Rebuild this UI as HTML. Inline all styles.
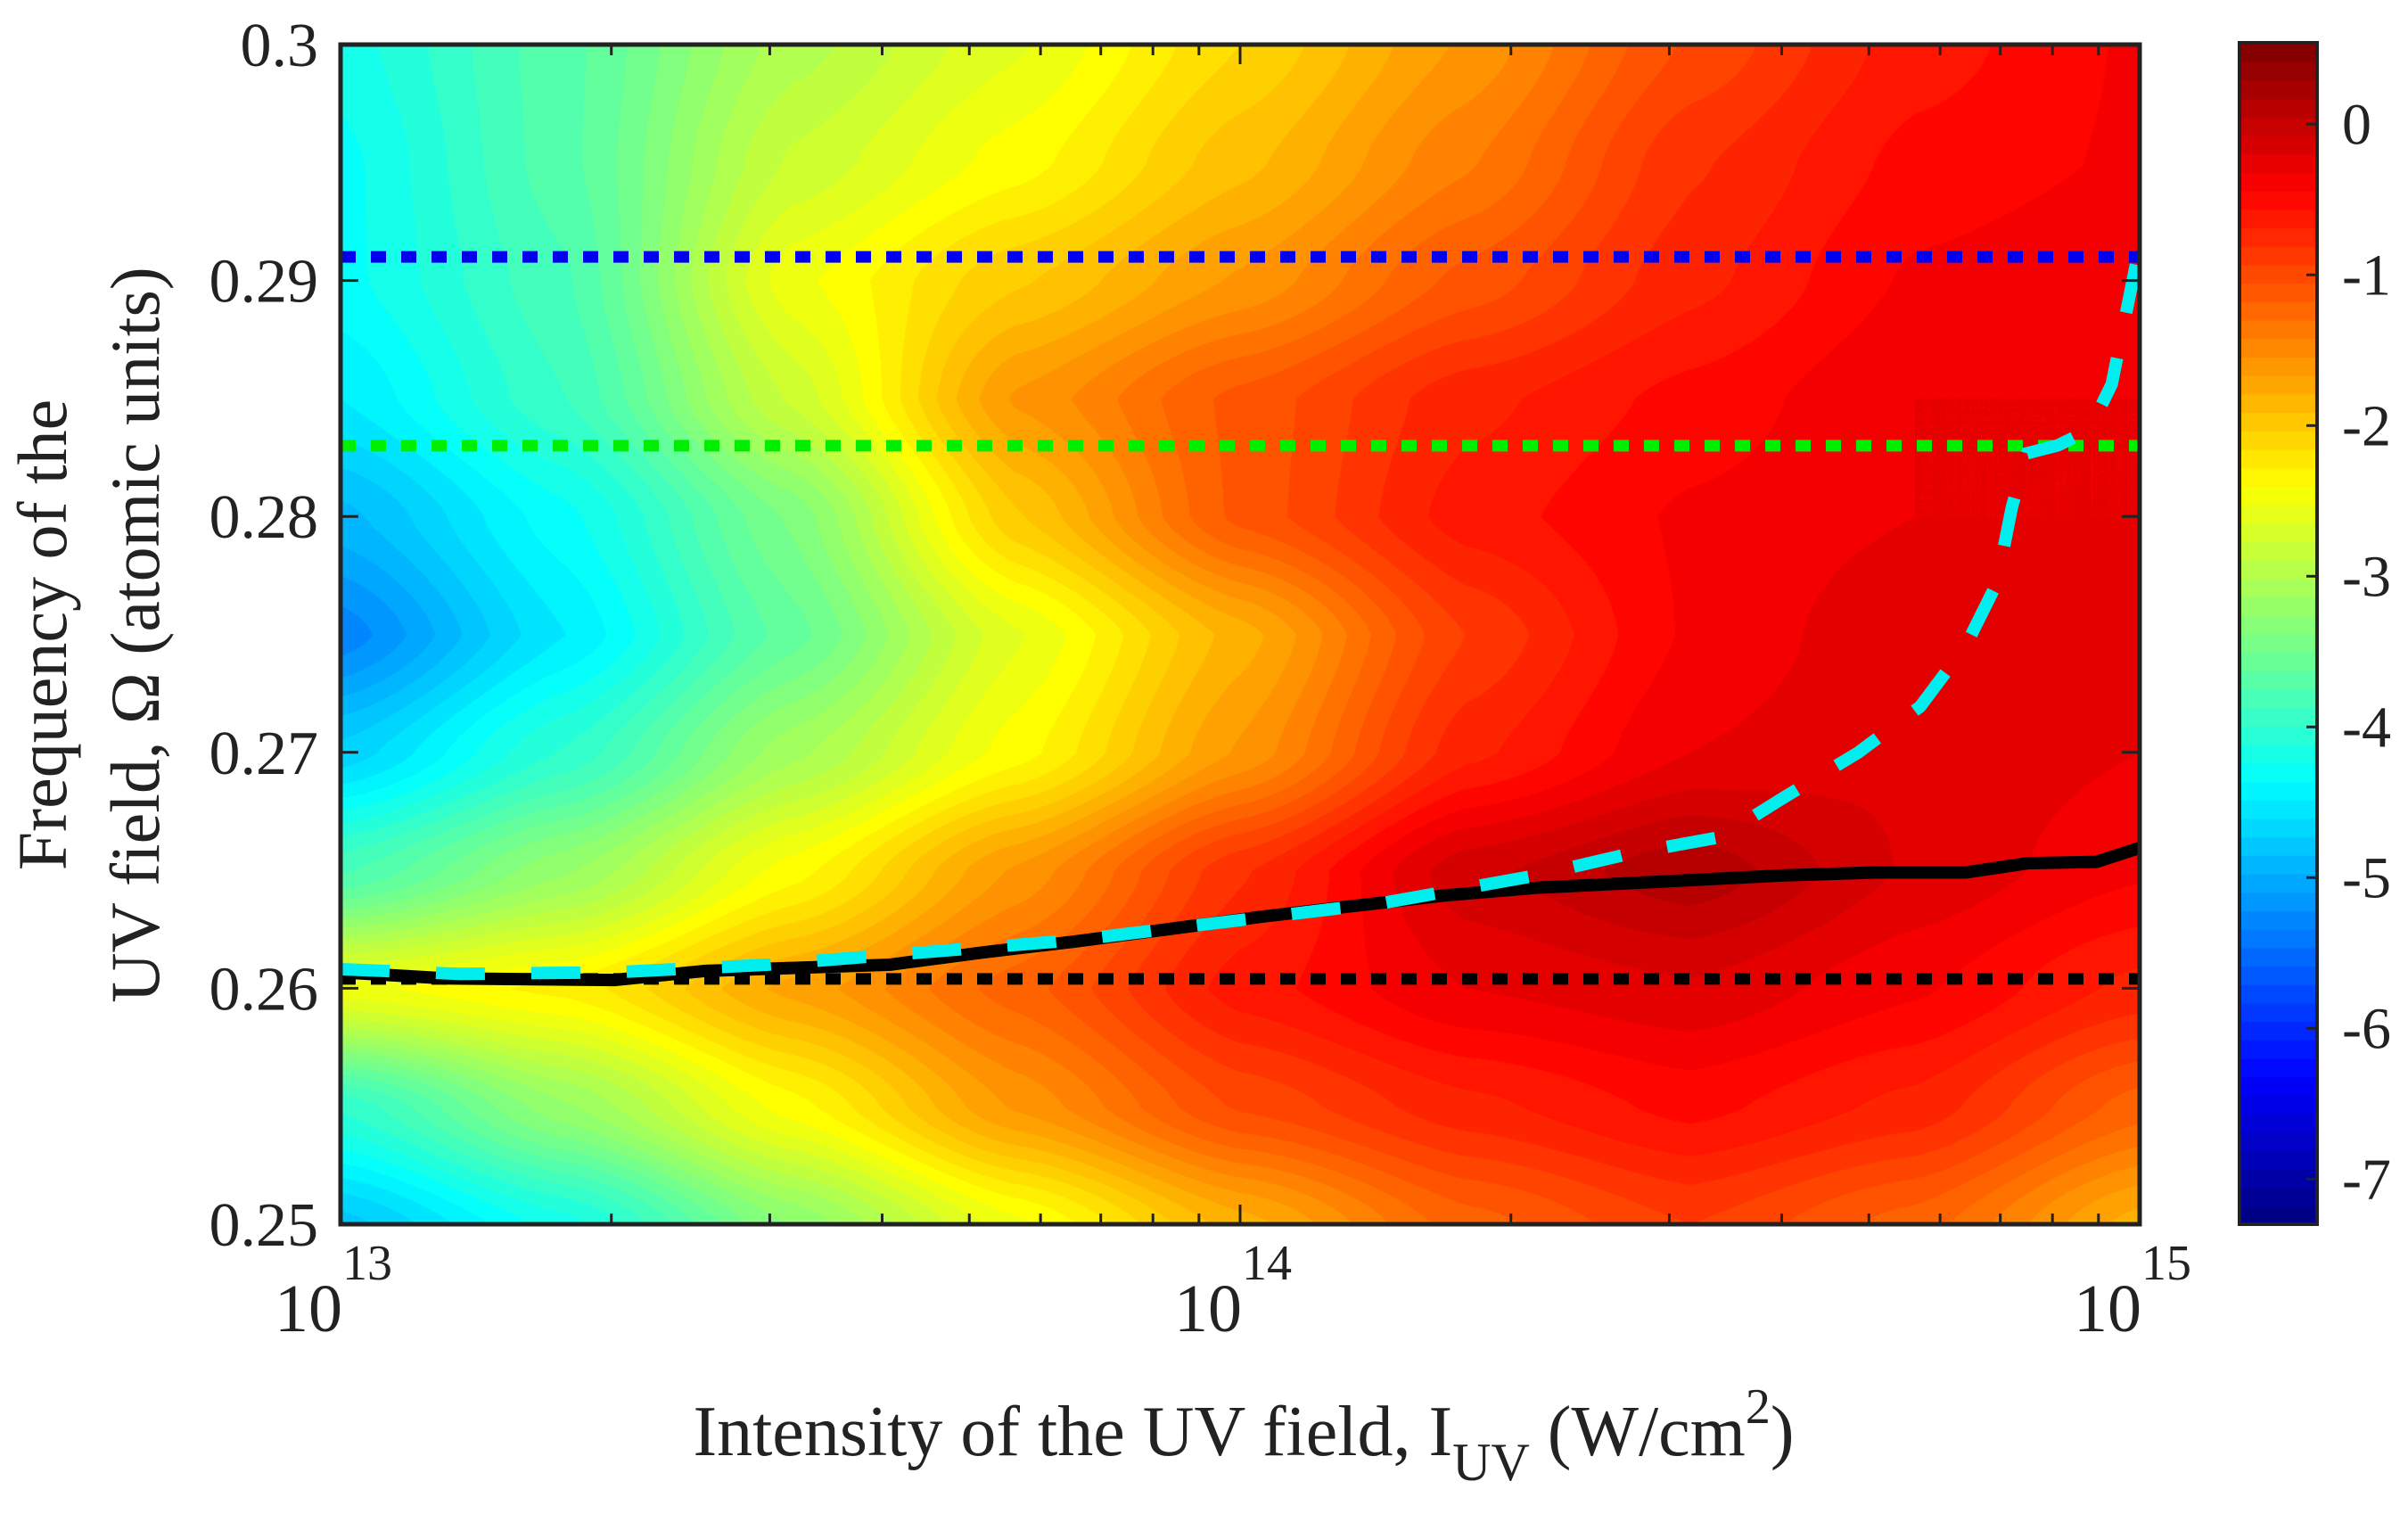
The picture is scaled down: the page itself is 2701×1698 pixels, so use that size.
<!DOCTYPE html>
<html><head><meta charset="utf-8"><style>
html,body{margin:0;padding:0;background:#fff;}
#wrap{position:relative;width:2701px;height:1698px;overflow:hidden;background:#fff;}
canvas{position:absolute;left:0;top:0;}
svg{position:absolute;left:0;top:0;}
text{font-family:"Liberation Serif",serif;fill:#222;}
</style></head><body>
<div id="wrap">
<canvas id="heat" width="2701" height="1698"></canvas>
<svg id="svg" width="2701" height="1698"></svg>
</div>
<script>
// ---- data ----
const gridLogI = [13, 13.25, 13.5, 13.75, 14, 14.25, 14.5, 14.75, 15];
const gridFreq = [0.30, 0.295, 0.29, 0.285, 0.28, 0.275, 0.27, 0.265, 0.26, 0.255, 0.25];
const gridValues = [
 [-4.2,-3.7,-3.0,-2.6,-2.1,-1.6,-1.0,-0.6,-0.4],
 [-4.3,-3.7,-2.8,-2.4,-1.9,-1.4,-0.8,-0.5,-0.4],
 [-4.3,-3.8,-2.5,-2.0,-1.6,-1.1,-0.7,-0.4,-0.3],
 [-4.5,-3.9,-2.8,-1.6,-1.1,-0.7,-0.5,-0.3,-0.3],
 [-4.9,-4.3,-3.4,-2.0,-1.1,-0.6,-0.4,-0.3,-0.3],
 [-5.3,-4.5,-3.6,-2.6,-1.8,-0.9,-0.4,-0.2,-0.3],
 [-4.7,-4.0,-3.1,-2.4,-1.6,-0.7,-0.3,-0.2,-0.3],
 [-3.8,-3.2,-2.4,-1.6,-0.8,-0.1, 0.15,-0.2,-0.4],
 [-2.5,-2.3,-1.7,-1.2,-0.6,-0.3,-0.2,-0.4,-0.7],
 [-4.0,-3.2,-2.4,-1.6,-1.0,-0.7,-0.5,-0.7,-1.2],
 [-4.8,-4.2,-3.3,-2.5,-1.8,-1.2,-0.9,-1.2,-1.8]
];
const blackLogI = [13.0,13.116,13.304,13.406,13.509,13.611,13.714,13.816,13.919,14.021,14.124,14.226,14.329,14.431,14.602,14.705,14.807,14.875,14.952,15.0];
const blackFreq = [0.26068,0.26042,0.26035,0.26074,0.26087,0.26100,0.26152,0.26198,0.26250,0.26302,0.26348,0.26393,0.26426,0.26445,0.26478,0.26491,0.26491,0.26530,0.26536,0.26595];
const cyanLogI = [13.0,13.133,13.304,13.475,13.646,13.816,13.987,14.158,14.329,14.431,14.534,14.602,14.687,14.756,14.807,14.841,14.858,14.875,14.909,14.944,14.969,15.0];
const cyanFreq = [0.26081,0.26061,0.26068,0.26100,0.26152,0.26204,0.26283,0.26361,0.26478,0.26569,0.26641,0.26803,0.26999,0.27194,0.27454,0.27715,0.28040,0.28268,0.28301,0.28366,0.28561,0.29147];
const refFreqs = [0.291, 0.283, 0.2604];
const refColors = ['#0000ee','#00ee00','#000000'];
const refNames = ['blue-dotted-line','green-dotted-line','black-dotted-line'];
const yTicks = [0.25,0.26,0.27,0.28,0.29,0.3];
const yTickLabels = ['0.25','0.26','0.27','0.28','0.29','0.3'];
const xMajor = [13,14,15];
const xMajorExp = ['13','14','15'];
const cbTicks = [0,-1,-2,-3,-4,-5,-6,-7];
const cMin = -7.3, cMax = 0.54;

// ---- layout ----
const L=382,R=2400,T=50,B=1373;
const xS = v => L + (v-13)/2*(R-L);
const yS = f => B - (f-0.25)/0.05*(B-T);
const CBL=2512,CBR=2599,CBT=48,CBB=1373;
const cbY = v => CBB - (v-cMin)/(cMax-cMin)*(CBB-CBT);

function jet(t){
  t=Math.max(0,Math.min(1,t));
  const c=x=>Math.max(0,Math.min(1,x));
  return [c(1.5-Math.abs(4*t-3)),c(1.5-Math.abs(4*t-2)),c(1.5-Math.abs(4*t-1))].map(v=>Math.round(v*255));
}
function sample(li,f){
  const gx=(li-13)/0.25, gy=(0.30-f)/0.005;
  let i=Math.min(Math.floor(gx),gridLogI.length-2), j=Math.min(Math.floor(gy),gridFreq.length-2);
  i=Math.max(0,i); j=Math.max(0,j);
  const u=gx-i, v=gy-j;
  const s=t=>t*t*(3-2*t);
  const us=s(u)*0.5+u*0.5, vs=s(v)*0.5+v*0.5;
  const a=gridValues[j][i],b=gridValues[j][i+1],c=gridValues[j+1][i],d=gridValues[j+1][i+1];
  return a*(1-us)*(1-vs)+b*us*(1-vs)+c*(1-us)*vs+d*us*vs;
}
// heatmap
const ctx=document.getElementById('heat').getContext('2d');
const W=R-L,H=B-T;
const img=ctx.createImageData(W,H);
for(let y=0;y<H;y++){
  const f=0.30-(y/H)*0.05;
  for(let x=0;x<W;x++){
    const li=13+x/W*2;
    let v=sample(li,f);
    v=Math.round(v/0.12)*0.12;
    const col=jet((v-cMin)/(cMax-cMin));
    const k=(y*W+x)*4;
    img.data[k]=col[0];img.data[k+1]=col[1];img.data[k+2]=col[2];img.data[k+3]=255;
  }
}
ctx.putImageData(img,L,T);
// colorbar
for(let i=0;i<64;i++){
  const v0=cMin+(cMax-cMin)*i/64, v1=cMin+(cMax-cMin)*(i+1)/64;
  const col=jet((i+0.5)/64);
  ctx.fillStyle=`rgb(${col[0]},${col[1]},${col[2]})`;
  ctx.fillRect(CBL,cbY(v1),CBR-CBL,cbY(v0)-cbY(v1)+1);
}

// ---- svg ----
const NS='http://www.w3.org/2000/svg';
const svg=document.getElementById('svg');
function mk(tag,attrs,parent){const e=document.createElementNS(NS,tag);for(const k in attrs)e.setAttribute(k,attrs[k]);(parent||svg).appendChild(e);return e;}

refFreqs.forEach((f,i)=>{
  const e=mk('line',{x1:L,x2:R,y1:yS(f),y2:yS(f),stroke:refColors[i],'stroke-width':13,'stroke-dasharray':'17 17'});
  
  
});
const bl=mk('polyline',{points:blackLogI.map((v,i)=>xS(v)+','+yS(blackFreq[i])).join(' '),fill:'none',stroke:'#000','stroke-width':14,'stroke-linejoin':'round'});


const cy=mk('polyline',{points:cyanLogI.map((v,i)=>xS(v)+','+yS(cyanFreq[i])).join(' '),fill:'none',stroke:'#00eeee','stroke-width':14,'stroke-dasharray':'55 52'});



// axes box
const box=mk('rect',{x:L,y:T,width:R-L,height:B-T,fill:'none',stroke:'#222','stroke-width':5});


// y ticks
yTicks.forEach((t,i)=>{
  mk('line',{x1:L,x2:L+20,y1:yS(t),y2:yS(t),stroke:'#222','stroke-width':3});
  mk('line',{x1:R,x2:R-20,y1:yS(t),y2:yS(t),stroke:'#222','stroke-width':3});
  const tx=mk('text',{x:357,y:yS(t)+24,'text-anchor':'end','font-size':70});
  tx.textContent=yTickLabels[i];
  
  
});
// x ticks
for(let d=13;d<15;d++){for(let m=2;m<=9;m++){const x=xS(d+Math.log10(m));
  mk('line',{x1:x,x2:x,y1:B,y2:B-12,stroke:'#222','stroke-width':3});
  mk('line',{x1:x,x2:x,y1:T,y2:T+12,stroke:'#222','stroke-width':3});}}
xMajor.forEach((d,i)=>{
  const x=xS(d);
  mk('line',{x1:x,x2:x,y1:B,y2:B-22,stroke:'#222','stroke-width':3});
  mk('line',{x1:x,x2:x,y1:T,y2:T+22,stroke:'#222','stroke-width':3});
  const tx=mk('text',{x:x-8,y:1493,'text-anchor':'middle','font-size':76});
  tx.textContent='10';
  const sup=mk('tspan',{dy:-58,'font-size':56});sup.textContent=xMajorExp[i];tx.appendChild(sup);
  
  
});
// x title
const xt=mk('text',{x:1395,y:1632,'text-anchor':'middle','font-size':80});
xt.appendChild(document.createTextNode('Intensity of the UV field, I'));
const s1=mk('tspan',{dy:28,'font-size':60});s1.textContent='UV';xt.appendChild(s1);
const s2=mk('tspan',{dy:-28});s2.textContent=' (W/cm';xt.appendChild(s2);
const s3=mk('tspan',{dy:-36,'font-size':56});s3.textContent='2';xt.appendChild(s3);
const s4=mk('tspan',{dy:36});s4.textContent=')';xt.appendChild(s4);


// y title
const yt=mk('text',{transform:'translate(74,712) rotate(-90)','text-anchor':'middle','font-size':78});
yt.textContent='Frequency of the';


const yt2=mk('text',{transform:'translate(178,712) rotate(-90)','text-anchor':'middle','font-size':78});
yt2.textContent='UV field, Ω (atomic units)';


// colorbar frame + ticks
const cbf=mk('rect',{x:CBL,y:CBT,width:CBR-CBL,height:CBB-CBT,fill:'none',stroke:'#222','stroke-width':4});


cbTicks.forEach(t=>{
  mk('line',{x1:CBR-12,x2:CBR,y1:cbY(t),y2:cbY(t),stroke:'#222','stroke-width':3});
  const tx=mk('text',{x:2627,y:cbY(t)+22,'font-size':66});
  tx.textContent=t===0?'0':'-'+(-t);
  
  
});
</script>
</body></html>
